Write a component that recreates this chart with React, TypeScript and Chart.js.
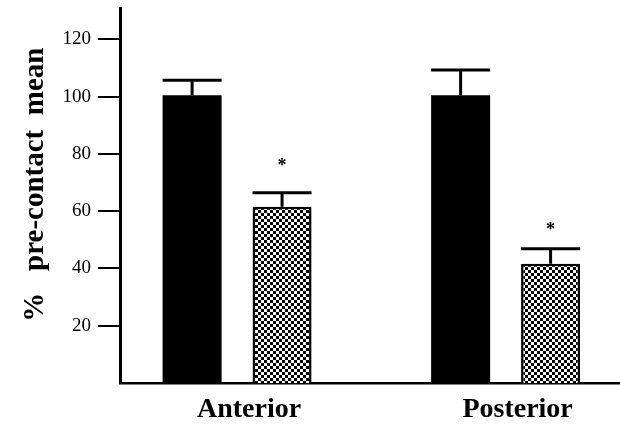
import React, { useEffect, useRef } from 'react';
import { Chart, registerables } from 'chart.js';

Chart.register(...registerables);

const CATEGORIES = ['Anterior', 'Posterior'];
const CATEGORY_X = [0, 1];
const CONTROL_VALUES = [100.5, 100.5];
const CONTROL_ERRORS = [5.3, 8.8];
const CONTACT_VALUES = [61.6, 41.7];
const CONTACT_ERRORS = [4.9, 5.2];
const STAR_VALUES = [77.4, 55.0];
const Y_TICKS = [20, 40, 60, 80, 100, 120];
const Y_MAX = 131;
const X_MIN = -0.436;
const X_MAX = 1.426;
const Y_TITLE = '   %   pre-contact  mean';

const SERIF = "'Liberation Serif', 'Times New Roman', serif";

function makePattern(ctx: CanvasRenderingContext2D) {
  const c = document.createElement('canvas');
  c.width = 6;
  c.height = 6;
  const p = c.getContext('2d')!;
  p.fillStyle = '#fff';
  p.fillRect(0, 0, 6, 6);
  p.fillStyle = '#000';
  p.fillRect(0, 0, 3, 3);
  p.fillRect(3, 3, 3, 3);
  return ctx.createPattern(c, 'repeat');
}

const errorBarPlugin = {
  id: 'errorBars',
  afterDatasetsDraw(chart: any) {
    const ctx = chart.ctx as CanvasRenderingContext2D;
    const yScale = chart.scales.y;
    ctx.save();
    ctx.strokeStyle = '#000';
    ctx.lineWidth = 3;
    ctx.lineCap = 'butt';
    chart.data.datasets.forEach((ds: any, di: number) => {
      const meta = chart.getDatasetMeta(di);
      meta.data.forEach((bar: any, i: number) => {
        const { x, y, width } = bar.getProps(['x', 'y', 'width'], true);
        const v = ds.data[i].y;
        const ey = yScale.getPixelForValue(v + ds.errors[i]);
        ctx.beginPath();
        ctx.moveTo(x, y);
        ctx.lineTo(x, ey);
        ctx.moveTo(x - width / 2, ey);
        ctx.lineTo(x + width / 2, ey);
        ctx.stroke();
      });
    });
    const meta1 = chart.getDatasetMeta(1);
    ctx.fillStyle = '#000';
    const fs = 18;
    ctx.font = `bold ${fs}px ${SERIF}`;
    ctx.textAlign = 'center';
    ctx.textBaseline = 'alphabetic';
    meta1.data.forEach((bar: any, i: number) => {
      const sy = yScale.getPixelForValue(STAR_VALUES[i]);
      ctx.fillText('*', bar.x, sy + fs * 0.53);
    });
    ctx.restore();
  },
};

export default function App() {
  const ref = useRef<HTMLCanvasElement>(null);
  useEffect(() => {
    const canvas = ref.current!;
    const ctx = canvas.getContext('2d')!;
    const pattern = makePattern(ctx);
    const chart = new Chart(canvas, {
      type: 'bar',
      data: {
        datasets: [
          {
            label: 'Pre-contact',
            data: CATEGORY_X.map((x, i) => ({ x, y: CONTROL_VALUES[i] })),
            errors: CONTROL_ERRORS,
            backgroundColor: '#000',
            borderWidth: 0,
          } as any,
          {
            label: 'Contact',
            data: CATEGORY_X.map((x, i) => ({ x, y: CONTACT_VALUES[i] })),
            errors: CONTACT_ERRORS,
            backgroundColor: pattern,
            borderColor: '#000',
            borderWidth: 2.5,
          } as any,
        ],
      },
      options: {
        animation: false,
        responsive: false,
        devicePixelRatio: 1,
        layout: { padding: { top: 8, left: 0, right: 0, bottom: 0 } },
        plugins: { legend: { display: false }, tooltip: { enabled: false } },
        datasets: { bar: { categoryPercentage: 0.67, barPercentage: 0.656 } },
        scales: {
          x: {
            type: 'linear',
            min: X_MIN,
            max: X_MAX,
            offset: false,
            grid: { display: false, drawTicks: false, offset: false },
            border: { display: true, color: '#000', width: 2.5 },
            afterBuildTicks: (s: any) => {
              s.ticks = CATEGORY_X.map((v) => ({ value: v }));
            },
            ticks: {
              callback: (_v: any, idx: number) => CATEGORIES[idx] ?? '',
              font: { family: SERIF, size: 28, weight: 'bold' },
              color: '#000',
              padding: 10,
              labelOffset: 12,
              maxRotation: 0,
              autoSkip: false,
            },
            afterFit: (s: any) => {
              s.height = 41;
              s.paddingLeft = 0;
              s.paddingRight = 0;
            },
          } as any,
          y: {
            min: 0,
            max: Y_MAX,
            afterBuildTicks: (s: any) => {
              s.ticks = Y_TICKS.map((v) => ({ value: v }));
            },
            grid: { drawOnChartArea: false, drawTicks: true, tickLength: 22, color: '#000', lineWidth: 2 },
            border: { display: true, color: '#000', width: 3 },
            ticks: { font: { family: SERIF, size: 19 }, color: '#000', padding: 7 },
            title: {
              display: true,
              text: Y_TITLE,
              font: { family: SERIF, size: 29, weight: 'bold' },
              color: '#000',
              padding: { top: 18, bottom: 0 },
            },
            afterFit: (s: any) => {
              s.width = 120;
              s.paddingTop = 0;
              s.paddingBottom = 0;
            },
          } as any,
        },
      },
      plugins: [errorBarPlugin],
    } as any);
    return () => chart.destroy();
  }, []);
  return (
    <div style={{ position: 'absolute', left: 0, top: 0, width: 620, height: 424, background: '#fff' }}>
      <canvas ref={ref} width={620} height={424} style={{ display: 'block' }} />
    </div>
  );
}
